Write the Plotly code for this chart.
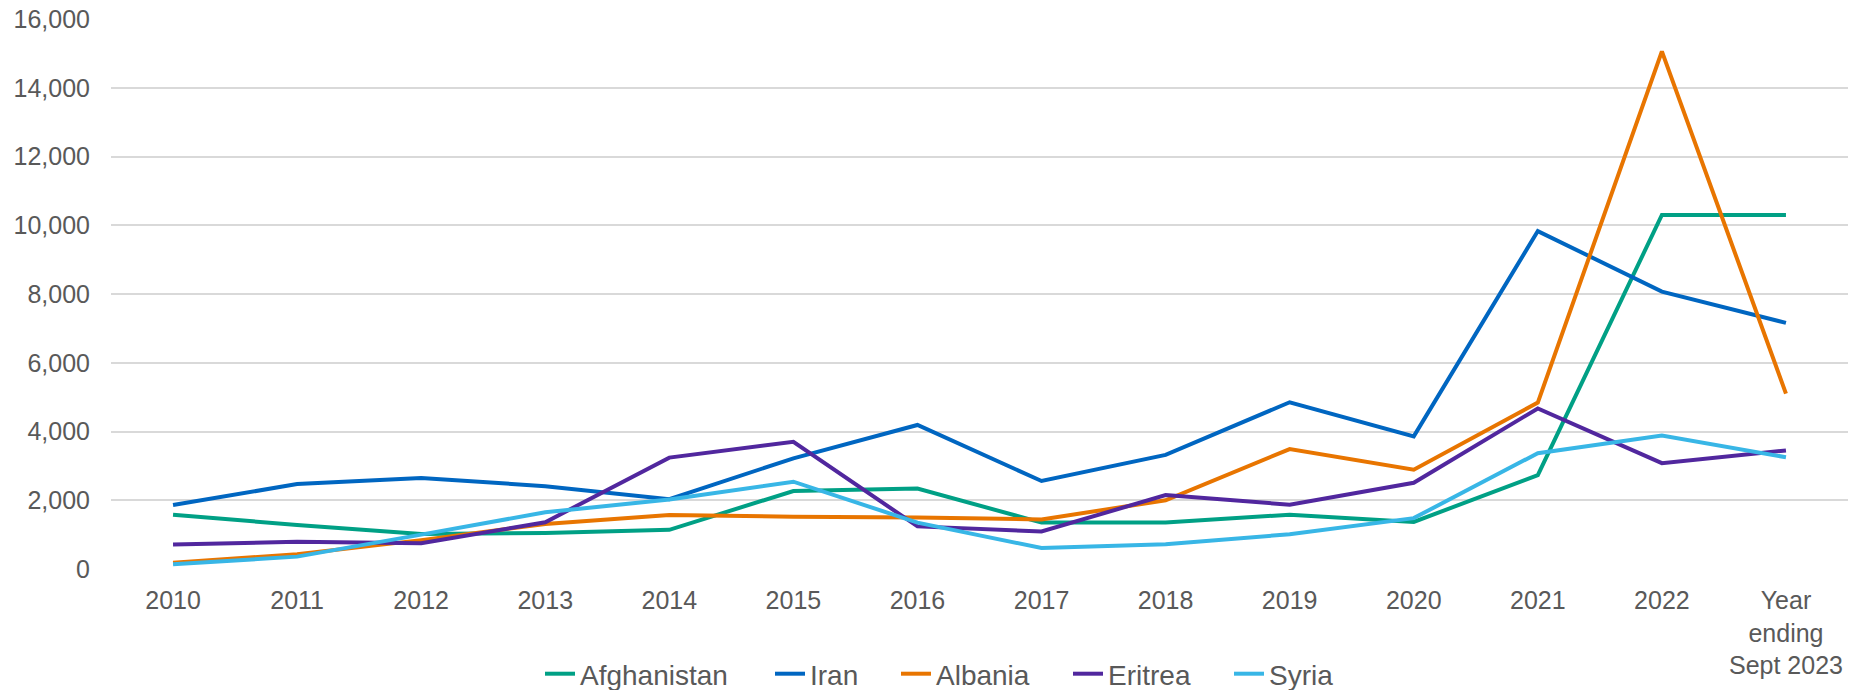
import plotly.graph_objects as go

categories = ["2010", "2011", "2012", "2013", "2014", "2015", "2016", "2017",
              "2018", "2019", "2020", "2021", "2022", "Year<br>ending<br>Sept 2023"]

afghanistan = [1580, 1280, 1020, 1050, 1140, 2270, 2340, 1350, 1350, 1580, 1370, 2730, 10300, 10300]
iran        = [1860, 2470, 2650, 2410, 2030, 3220, 4190, 2560, 3320, 4850, 3860, 9830, 8070, 7160]
albania     = [180, 430, 840, 1310, 1570, 1520, 1500, 1440, 2000, 3490, 2890, 4840, 15060, 5100]
eritrea     = [710, 790, 750, 1360, 3240, 3700, 1240, 1090, 2150, 1870, 2510, 4670, 3080, 3450]
syria       = [140, 360, 1000, 1650, 2020, 2540, 1350, 610, 720, 1010, 1480, 3370, 3880, 3250]

y_ticks = [0, 2000, 4000, 6000, 8000, 10000, 12000, 14000, 16000]

series = [
    ("Afghanistan", afghanistan, "#00A085"),
    ("Iran", iran, "#0066C1"),
    ("Albania", albania, "#E87500"),
    ("Eritrea", eritrea, "#51279E"),
    ("Syria", syria, "#38B6E6"),
]

# page has an 8px body margin; figure is sized so it fits the window
W, H = 1855, 682
L, R, T, B = 103, 15, 11, 121
plot_w = W - L - R
plot_h = H - T - B

# legend entry text starts (figure px)
legend_text_x = [572, 802, 928, 1100, 1261]
legend_names = ["legend", "legend2", "legend3", "legend4", "legend5"]
legend_y = (H - B - 666) / plot_h

font_family = "Liberation Sans, Arial, sans-serif"

fig = go.Figure()
for (name, vals, color), lg in zip(series, legend_names):
    fig.add_trace(go.Scatter(
        x=categories, y=vals, name=name, mode="lines",
        line=dict(color=color, width=4), legend=lg,
    ))

layout_legends = {}
for lg, tx in zip(legend_names, legend_text_x):
    layout_legends[lg] = dict(
        orientation="h", x=(tx - 40 - L) / plot_w, xanchor="left",
        y=legend_y, yanchor="middle", bgcolor="rgba(0,0,0,0)",
        font=dict(size=28, color="#595959", family=font_family), itemwidth=30,
    )

fig.update_layout(
    width=W, height=H,
    margin=dict(l=L, r=R, t=T, b=B, autoexpand=False),
    paper_bgcolor="white", plot_bgcolor="white",
    font=dict(family=font_family, color="#595959", size=25),
    showlegend=True,
    xaxis=dict(type="category", range=[-0.5, 13.5], showgrid=False, showline=False,
               ticks="", ticklabelstandoff=14, automargin=False,
               ticklabeloverflow="allow",
               tickfont=dict(size=25, color="#595959"), tickangle=0),
    yaxis=dict(range=[0, 16000], tickmode="array", tickvals=y_ticks, tickformat=",",
               showgrid=True, gridcolor="#D9D9D9", gridwidth=1.5, zeroline=False,
               showline=False, ticks="", ticklabelstandoff=20, automargin=False,
               ticklabeloverflow="allow",
               tickfont=dict(size=25, color="#595959")),
    **layout_legends,
)

fig.write_html("out.html")
